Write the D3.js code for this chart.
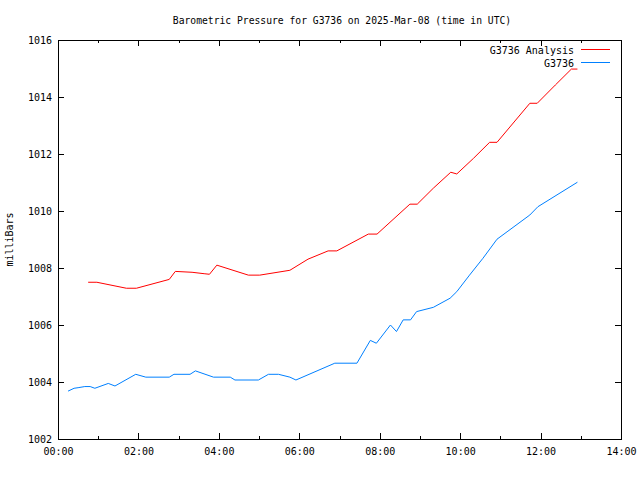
<!DOCTYPE html>
<html>
<head>
<meta charset="utf-8">
<script src="https://cdn.jsdelivr.net/npm/d3@7"></script>
<style>
  html, body { margin: 0; padding: 0; background: #fff; }
  svg { display: block; }
  text { font-family: "DejaVu Sans Mono", "Liberation Mono", monospace; fill: #000; }
</style>
</head>
<body>
<svg id="chart" width="640" height="480"></svg>
<script>
// ---- Data (time in hours UTC, pressure in mb) ----
const title = "Barometric Pressure for G3736 on 2025-Mar-08 (time in UTC)";
const yLabel = "milliBars";
const seriesNames = ["G3736 Analysis", "G3736"];
const seriesColors = ["#ff0000", "#0080ff"];

const analysisTimes = ["00:45","00:58","01:42","01:57","02:46","02:55","03:20","03:38","03:46","03:57",
  "04:44","05:01","05:46","06:13","06:43","06:56","07:43","07:56","08:45","08:56",
  "09:20","09:46","09:55","10:20","10:44","10:55","11:44","11:55","12:22","12:46","12:55"];
const analysisValues = [1007.50,1007.50,1007.29,1007.29,1007.60,1007.88,1007.85,1007.80,1007.78,1008.10,
  1007.75,1007.75,1007.92,1008.31,1008.60,1008.60,1009.19,1009.19,1010.24,1010.24,
  1010.80,1011.36,1011.30,1011.85,1012.41,1012.41,1013.78,1013.78,1014.42,1014.98,1014.98];

const stationTimes = ["00:15","00:24","00:30","00:40","00:48","00:55","01:15","01:25","01:56","02:11",
  "02:46","02:53","03:17","03:25","03:52","04:17","04:24","04:59","05:14","05:29",
  "05:46","05:55","06:53","07:26","07:46","07:55","08:16","08:25","08:35","08:46",
  "08:55","09:20","09:45","09:55","10:14","10:34","10:55","11:10","11:44","11:56","12:55"];
const stationValues = [1003.68,1003.78,1003.80,1003.84,1003.84,1003.78,1003.95,1003.86,1004.27,1004.17,
  1004.17,1004.27,1004.27,1004.39,1004.17,1004.17,1004.07,1004.07,1004.27,1004.27,
  1004.17,1004.07,1004.66,1004.66,1005.46,1005.36,1006.00,1005.77,1006.18,1006.18,
  1006.47,1006.62,1006.94,1007.17,1007.75,1008.34,1009.01,1009.27,1009.86,1010.15,1011.01];

const xTickValues = [0, 2, 4, 6, 8, 10, 12, 14];
const xTickLabels = ["00:00","02:00","04:00","06:00","08:00","10:00","12:00","14:00"];
const xMinorTicks = [1, 3, 5, 7, 9, 11, 13];
const yTickValues = [1002, 1004, 1006, 1008, 1010, 1012, 1014, 1016];

// ---- Helpers ----
const toHours = s => { const [h, m] = s.split(":").map(Number); return h + m / 60; };
const analysis = analysisTimes.map((t, i) => ({ x: toHours(t), y: analysisValues[i] }));
const station = stationTimes.map((t, i) => ({ x: toHours(t), y: stationValues[i] }));

// ---- Layout ----
const L = 58, R = 621, T = 40, B = 439;
const svg = d3.select("#chart");

const x = d3.scaleLinear().domain([0, 14]).range([L, R]);
const y = d3.scaleLinear().domain([1002, 1016]).range([B, T]);

// Title
svg.append("text")
  .attr("x", 342).attr("y", 24)
  .attr("text-anchor", "middle")
  .style("font-size", "9.7px")
  .text(title);

// Y label
svg.append("text")
  .attr("transform", `translate(13,${(T + B) / 2}) rotate(-90)`)
  .attr("text-anchor", "middle")
  .style("font-size", "10px")
  .text(yLabel);

function styleAxis(g) {
  g.select(".domain").remove();
  g.selectAll("line").attr("stroke", "#000").attr("shape-rendering", "crispEdges");
  g.selectAll("text").style("font-size", "10px").attr("font-family", null);
}

// Bottom axis (major with labels)
svg.append("g").attr("transform", `translate(0,${B})`)
  .call(d3.axisBottom(x).tickValues(xTickValues)
    .tickFormat((d, i) => xTickLabels[i]).tickSizeInner(-6).tickSizeOuter(0).tickPadding(9))
  .call(styleAxis);
// Bottom minor
svg.append("g").attr("transform", `translate(0,${B})`)
  .call(d3.axisBottom(x).tickValues(xMinorTicks).tickFormat("").tickSizeInner(-3).tickSizeOuter(0))
  .call(styleAxis);
// Top mirror
svg.append("g").attr("transform", `translate(0,${T})`)
  .call(d3.axisTop(x).tickValues(xTickValues).tickFormat("").tickSizeInner(-6).tickSizeOuter(0))
  .call(styleAxis);
svg.append("g").attr("transform", `translate(0,${T})`)
  .call(d3.axisTop(x).tickValues(xMinorTicks).tickFormat("").tickSizeInner(-3).tickSizeOuter(0))
  .call(styleAxis);
// Left axis
svg.append("g").attr("transform", `translate(${L},0)`)
  .call(d3.axisLeft(y).tickValues(yTickValues).tickFormat(d3.format("d"))
    .tickSizeInner(-6).tickSizeOuter(0).tickPadding(6))
  .call(styleAxis);
// Right mirror
svg.append("g").attr("transform", `translate(${R},0)`)
  .call(d3.axisRight(y).tickValues(yTickValues).tickFormat("").tickSizeInner(-6).tickSizeOuter(0))
  .call(styleAxis);

// Frame
svg.append("rect")
  .attr("x", L + 0.5).attr("y", T + 0.5)
  .attr("width", R - L).attr("height", B - T)
  .attr("fill", "none").attr("stroke", "#000").attr("stroke-width", 1)
  .attr("shape-rendering", "crispEdges");

// Lines
const line = d3.line().x(d => x(d.x)).y(d => y(d.y));
[analysis, station].forEach((data, i) => {
  svg.append("path")
    .datum(data)
    .attr("d", line)
    .attr("fill", "none")
    .attr("stroke", seriesColors[i])
    .attr("stroke-width", 1);
});

// Legend
const legendRows = [50, 63];
seriesNames.forEach((name, i) => {
  svg.append("text")
    .attr("x", 574).attr("y", legendRows[i])
    .attr("dy", "0.35em")
    .attr("text-anchor", "end")
    .style("font-size", "10px")
    .text(name);
  svg.append("line")
    .attr("x1", 581).attr("x2", 610)
    .attr("y1", legendRows[i] - 0.5).attr("y2", legendRows[i] - 0.5)
    .attr("stroke", seriesColors[i]).attr("stroke-width", 1)
    .attr("shape-rendering", "crispEdges");
});
</script>
</body>
</html>
